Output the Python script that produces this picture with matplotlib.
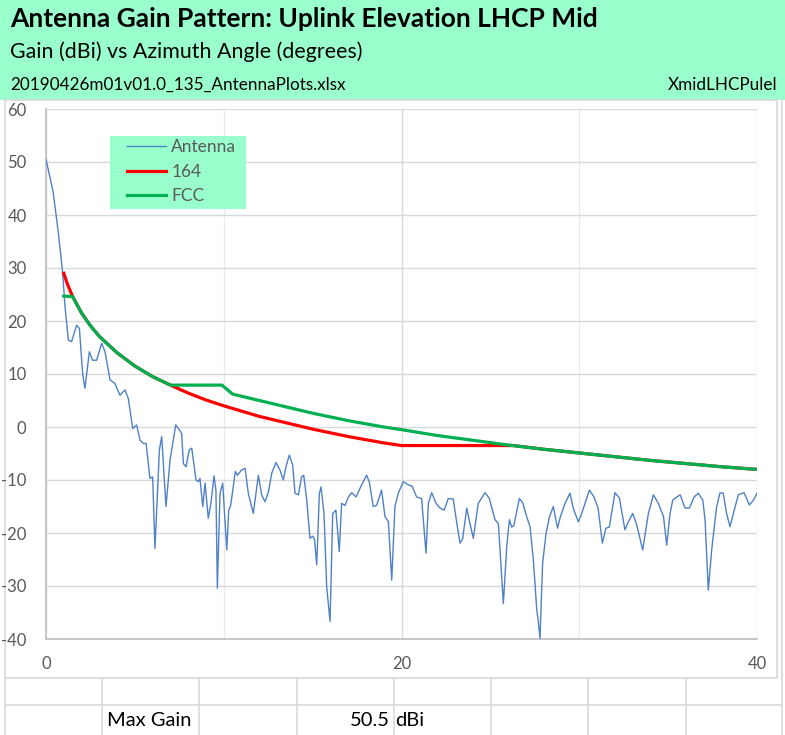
import matplotlib.pyplot as plt
from matplotlib.lines import Line2D
from matplotlib.patches import Rectangle

plt.rcParams['font.family'] = ['Lato', 'DejaVu Sans']
plt.rcParams['axes.unicode_minus'] = False

# ---- data ----
ant_deg = [0.0, 0.4, 0.7, 0.94, 1.07, 1.26, 1.44, 1.72, 1.88, 2.06, 2.19, 2.44, 2.62, 2.85,
           3.13, 3.32, 3.6, 3.88, 4.16, 4.44, 4.63, 4.88, 5.1, 5.29, 5.48, 5.63, 5.85, 6.0,
           6.13, 6.38, 6.51, 6.75, 6.98, 7.3, 7.45, 7.63, 7.73, 7.88, 8.06, 8.2, 8.44, 8.57,
           8.66, 8.82, 8.95, 9.13, 9.28, 9.45, 9.56, 9.64, 9.79, 9.94, 10.17, 10.28, 10.39,
           10.65, 10.77, 11.01, 11.2, 11.38, 11.66, 11.95, 12.13, 12.32, 12.51, 12.7, 12.94,
           13.16, 13.35, 13.5, 13.69, 13.88, 14.01, 14.2, 14.38, 14.5, 14.67, 14.85, 15.0,
           15.1, 15.23, 15.38, 15.47, 15.64, 15.79, 15.98, 16.13, 16.31, 16.5, 16.63, 16.82,
           17.01, 17.2, 17.44, 17.76, 18.04, 18.19, 18.41, 18.6, 18.88, 19.07, 19.26, 19.45,
           19.63, 19.82, 20.1, 20.38, 20.6, 20.85, 21.13, 21.38, 21.51, 21.7, 21.94, 22.17,
           22.4, 22.63, 22.91, 23.1, 23.29, 23.44, 23.67, 23.85, 24.04, 24.32, 24.7, 24.93,
           25.26, 25.45, 25.73, 25.92, 26.07, 26.2, 26.32, 26.63, 26.82, 27.04, 27.23, 27.42,
           27.61, 27.7, 27.79, 27.94, 28.13, 28.32, 28.54, 28.78, 28.94, 29.2, 29.48, 29.66,
           29.95, 30.14, 30.57, 30.83, 31.06, 31.3, 31.5, 31.69, 32.01, 32.26, 32.57, 32.76,
           33.01, 33.23, 33.57, 33.89, 34.17, 34.45, 34.74, 34.92, 35.11, 35.26, 35.49, 35.68,
           35.95, 36.2, 36.46, 36.7, 36.95, 37.08, 37.26, 37.45, 37.73, 37.92, 38.1, 38.29,
           38.48, 38.67, 38.95, 39.27, 39.57, 39.8, 40.0]
ant_gain = [50.5, 44.4, 36.5, 29.0, 22.7, 16.4, 16.1, 19.2, 18.6, 10.1, 7.3, 14.2, 12.6, 12.6,
            15.8, 14.2, 8.9, 8.2, 6.0, 7.0, 5.4, -0.3, 0.4, -2.5, -3.1, -3.1, -9.7, -9.4,
            -22.9, -4.3, -1.8, -15.0, -6.2, 0.4, -0.3, -1.2, -6.9, -7.5, -4.3, -4.0, -10.0, -10.3,
            -9.7, -15.0, -10.6, -17.2, -14.4, -9.2, -11.9, -30.4, -12.5, -10.6, -23.2, -15.7, -14.8,
            -8.4, -9.1, -8.1, -7.8, -12.5, -16.3, -9.1, -12.8, -14.1, -12.3, -8.7, -6.7,
            -8.1, -10.0, -7.5, -5.3, -7.2, -12.5, -12.8, -9.4, -9.1, -13.8, -21.0, -20.6,
            -21.1, -26.0, -12.5, -11.3, -16.3, -30.1, -36.7, -16.3, -15.7, -23.5, -14.4, -14.8,
            -13.2, -12.4, -13.2, -10.9, -9.1, -10.4, -15.0, -14.8, -11.9, -16.9, -17.8, -28.9,
            -15.0, -12.5, -10.3, -10.9, -11.2, -13.2, -13.5, -23.8, -14.4, -12.4, -14.4, -15.3,
            -15.7, -13.5, -13.6, -17.9, -21.9, -21.1, -15.3, -18.2, -21.0, -14.4, -12.4, -13.4,
            -17.5, -18.2, -33.3, -22.6, -17.5, -18.9, -18.6, -13.5, -14.3, -16.9, -18.8, -25.1,
            -34.5, -36.8, -39.9, -25.7, -20.1, -17.0, -15.0, -19.1, -16.9, -14.4, -12.5, -15.3,
            -17.9, -16.3, -11.9, -13.2, -15.3, -21.9, -19.1, -18.9, -12.4, -13.4, -19.4, -17.9,
            -16.3, -18.4, -23.2, -16.3, -12.8, -14.4, -16.9, -22.3, -16.3, -13.8, -13.2, -12.8,
            -15.3, -15.3, -13.2, -12.5, -13.8, -17.6, -30.8, -23.2, -15.0, -12.4, -12.5, -16.3,
            -18.8, -16.3, -12.8, -12.4, -14.7, -13.8, -12.5]

mask164_deg = [1.0, 1.2, 1.5, 2, 2.5, 3, 4, 5, 6, 7, 8, 9, 10, 11, 12, 13, 14, 15, 16, 17,
               18, 19, 20, 26.3, 28, 30, 32, 34, 36, 38, 40]
mask164_gain = [29.0, 27.0, 24.6, 21.5, 19.1, 17.1, 14.0, 11.5, 9.5, 7.9, 6.4, 5.1, 4.0, 3.0,
                2.0, 1.2, 0.4, -0.4, -1.1, -1.8, -2.4, -3.0, -3.5, -3.5, -4.2, -4.9, -5.6,
                -6.3, -6.9, -7.5, -8.0]

fcc_deg = [1.0, 1.5, 2, 2.5, 3, 4, 5, 6, 7, 9.9, 10.5, 11, 12, 13, 14, 15, 16, 17, 18, 19,
           20, 22, 24, 26, 28, 30, 32, 34, 36, 38, 40]
fcc_gain = [24.7, 24.6, 21.5, 19.1, 17.1, 14.0, 11.5, 9.5, 7.9, 7.9, 6.2, 5.8, 5.0, 4.2, 3.4,
            2.6, 1.9, 1.2, 0.6, 0.0, -0.5, -1.6, -2.5, -3.4, -4.2, -4.9, -5.6, -6.3, -6.9,
            -7.5, -8.0]

title = 'Antenna Gain Pattern: Uplink Elevation LHCP Mid'
subtitle = 'Gain (dBi) vs Azimuth Angle (degrees)'
file_name = '20190426m01v01.0_135_AntennaPlots.xlsx'
sheet_tag = 'XmidLHCPulel'
max_gain = 50.5

W, H = 785, 735
HEADER = '#99FFCC'
GRID = '#D9D9D9'
TXT = '#595959'

fig = plt.figure(figsize=(W / 100, H / 100), dpi=100)

def px(x, y):
    # pixel coords (from top-left) -> figure fraction
    return x / W, 1 - y / H

# header band
fig.patches.append(Rectangle((0, 1 - 100 / H), 1, 100 / H, transform=fig.transFigure,
                             facecolor=HEADER, edgecolor='none', zorder=-2))
fig.text(*px(10, 19), title, fontsize=19, fontweight='bold', va='center', ha='left')
fig.text(*px(10, 52), subtitle, fontsize=15.4, va='center', ha='left')
fig.text(*px(10, 85), file_name, fontsize=12.3, va='center', ha='left')
fig.text(*px(777, 85), sheet_tag, fontsize=12.3, va='center', ha='right')

# chart frame
fig.patches.append(Rectangle(px(5, 678), (777 - 5) / W, (678 - 100) / H,
                             transform=fig.transFigure, facecolor='white',
                             edgecolor=GRID, linewidth=1.2, zorder=-1))

# sheet cells below the chart
cell_x = [5, 102, 199, 297, 394, 491, 588, 686, 782]
for cx in cell_x:
    fig.add_artist(Line2D([cx / W] * 2, [1 - 678 / H, 0], color=GRID, lw=1.2))
fig.add_artist(Line2D([5 / W, 782 / W], [1 - 705 / H] * 2, color=GRID, lw=1.2))
fig.add_artist(Line2D([782 / W] * 2, [1 - 100 / H, 1 - 678 / H], color=GRID, lw=1.2))
fig.text(*px(107, 720), 'Max Gain', fontsize=14.5, va='center', ha='left')
fig.text(*px(390, 720), f'{max_gain}', fontsize=14.5, va='center', ha='right')
fig.text(*px(395, 720), 'dBi', fontsize=14.5, va='center', ha='left')

# plot area
AX_L, AX_R, AX_T, AX_B = 46, 757, 109, 639
ax = fig.add_axes([AX_L / W, (H - AX_B) / H, (AX_R - AX_L) / W, (AX_B - AX_T) / H])
ax.plot(ant_deg, ant_gain, color='#4F81C7', lw=1.0, label='Antenna', zorder=3)
ax.plot(mask164_deg, mask164_gain, color='#FF0000', lw=2.3, label='164', zorder=4)
ax.plot(fcc_deg, fcc_gain, color='#00B050', lw=2.3, label='FCC', zorder=5)

ax.set_xlim(0, 40)
ax.set_ylim(-40, 60)
ax.set_xticks([0, 20, 40])
ax.set_xticks([10, 30], minor=True)
ax.set_yticks(range(-40, 61, 10))
ax.grid(True, which='major', color=GRID, lw=1.0)
ax.grid(True, which='minor', axis='x', color='#EBEBEB', lw=1.0)
ax.tick_params(which='both', length=0, labelsize=12, colors=TXT)
ax.tick_params(axis='x', pad=12)
ax.tick_params(axis='y', pad=14)
for side in ['top', 'right']:
    ax.spines[side].set_visible(False)
for side in ['left', 'bottom']:
    ax.spines[side].set_color('#BFBFBF')
    ax.spines[side].set_linewidth(1.2)
ax.set_axisbelow(True)

# legend box (green panel) and frameless legend inside it
def ax_frac(x, y):
    return (x - AX_L) / (AX_R - AX_L), (AX_B - y) / (AX_B - AX_T)

bx0, by0 = ax_frac(110, 209)
bx1, by1 = ax_frac(246, 136)
ax.add_patch(Rectangle((bx0, by0), bx1 - bx0, by1 - by0, transform=ax.transAxes,
                       facecolor=HEADER, edgecolor='none', zorder=6))
leg = ax.legend(loc='upper left', bbox_to_anchor=ax_frac(127, 139),
                borderaxespad=0, frameon=False, fontsize=12.5, handlelength=2.25,
                handletextpad=0.3, labelspacing=0.5, borderpad=0)
leg.set_zorder(7)
for t in leg.get_texts():
    t.set_color(TXT)

fig.savefig('out.png', dpi=100)
